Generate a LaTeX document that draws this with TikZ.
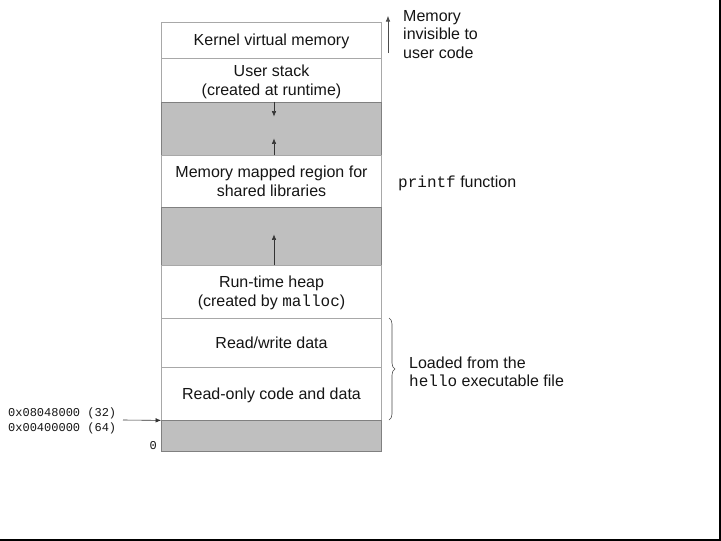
\documentclass[tikz,border=0pt]{standalone}
\usepackage{fontspec}
\setmainfont{Liberation Sans}
\setmonofont{Liberation Mono}
\usetikzlibrary{arrows.meta,decorations.pathreplacing}
\definecolor{edge}{HTML}{A8A8A8}
\definecolor{fillgray}{HTML}{BFBFBF}
\definecolor{ink}{HTML}{151515}
\begin{document}
\begin{tikzpicture}[x=1pt,y=-1pt,
  region/.style={draw=edge, line width=0.8pt, minimum width=220pt, inner sep=0pt, align=center, text=ink, text depth=0pt, font=\fontsize{16}{19}\selectfont},
  gap/.style={region, fill=fillgray, draw=gray},
  arr/.style={-{Latex[length=5.5pt,width=4.5pt]}, line width=0.6pt, draw=black!80},
  lbl/.style={anchor=west, align=left, inner sep=0pt, text=ink, font=\fontsize{16}{18.5}\selectfont},
  addr/.style={anchor=west, inner sep=0pt, text=ink, font=\fontsize{12}{15}\ttfamily}]
\useasboundingbox (0,0) rectangle (721,541);
\fill[white] (0,0) rectangle (721,541);
\draw[black, line width=2pt] (0,540) -- (720,540) -- (720,0);

\node[region, minimum height=36pt] (kern) at (271.5,40) {Kernel virtual memory};
\node[region, minimum height=44pt] (ustack) at (271.5,80) {User stack\\(created at runtime)};
\node[gap, minimum height=53pt] (gap1) at (271.5,128.5) {};
\node[region, minimum height=52pt] (mmap) at (271.5,181) {Memory mapped region for\\shared libraries};
\node[gap, minimum height=58pt] (gap2) at (271.5,236) {};
\node[region, minimum height=53pt] (heap) at (271.5,291.5) {Run-time heap\\(created by {\ttfamily malloc})};
\node[region, minimum height=49pt] (rw) at (271.5,342.5) {Read/write data};
\node[region, minimum height=53pt] (ro) at (271.5,393.5) {Read-only code and data};
\node[gap, minimum height=31pt] (gap3) at (271.5,435.5) {};

% growth arrows
\draw[arr] ([xshift=2.5pt]gap1.north) -- ++(0,15);
\draw[arr] ([xshift=2.5pt]gap1.south) -- ++(0,-17);
\draw[arr] ([xshift=2.5pt]gap2.south) -- ++(0,-31);

% right annotations
\coordinate (kt) at (388,16);
\coordinate (kb) at (388,53);
\draw[arr, draw=black!70] (kb) -- (kt);
\node[lbl] (inv) at (403,34.5) {Memory\\invisible to\\user code};
\node[lbl] (pf) at (398,183) {{\ttfamily printf} function};
\draw[decorate, decoration={brace, amplitude=6pt}, line width=0.6pt, draw=black!70] (389,318) -- (389,420);
\node[lbl] (load) at (409,372) {Loaded from the\\{\ttfamily hello} executable file};

% left address labels
\node[addr] (a32) at (8,413) {0x08048000 (32)};
\node[addr] (a64) at (8,428) {0x00400000 (64)};
\coordinate (ast) at (123,420);
\draw[arr] (ast) -- (ro.south west);
\node[addr, anchor=east] (zero) at (157,446) {0};
\end{tikzpicture}
\end{document}
